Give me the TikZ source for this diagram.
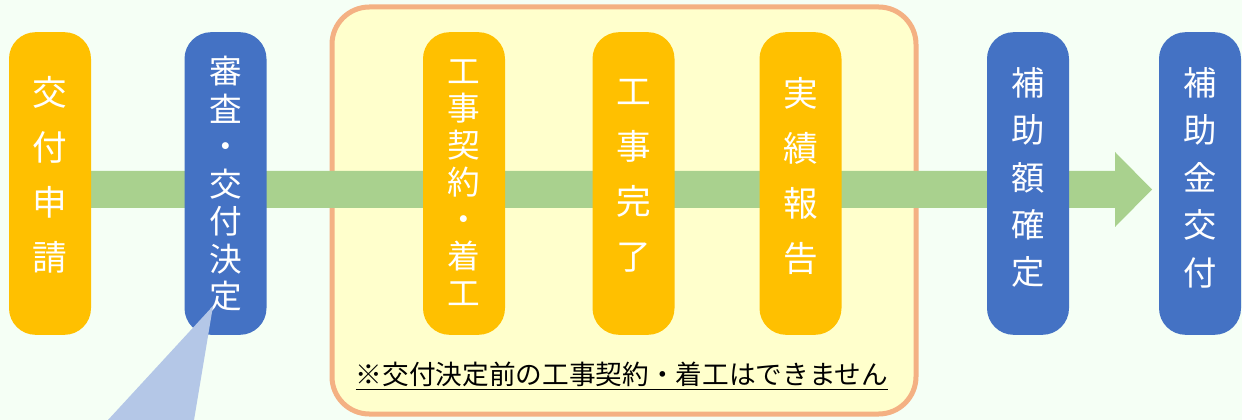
\documentclass[tikz,border=0pt]{standalone}
\usepackage{fontspec}
\newfontfamily\jp{Noto Sans CJK JP}
\definecolor{bgc}{HTML}{F5FFF5}
\definecolor{orangebox}{HTML}{FFC000}
\definecolor{bluebox}{HTML}{4472C4}
\definecolor{greenbar}{HTML}{A9D18E}
\definecolor{salmon}{HTML}{F4B183}
\definecolor{paleyellow}{HTML}{FFFFCC}
\definecolor{callout}{HTML}{B4C7E7}
\begin{document}
\begin{tikzpicture}[x=0.75pt,y=-0.75pt,
  stepbox/.style={rounded corners=20pt, minimum width=61.5pt, minimum height=227pt, inner sep=0pt, draw=none},
  orangestep/.style={stepbox, fill=orangebox},
  bluestep/.style={stepbox, fill=bluebox},
  vtext/.style 2 args={text=white, align=center, inner sep=0pt, font=\jp\fontsize{#1}{#2}\selectfont}
]
\useasboundingbox (0,0) rectangle (1242,420);
\fill[bgc] (0,0) rectangle (1242,420);

% group frame
\draw[salmon, fill=paleyellow, line width=3.75pt, rounded corners=28pt] (332,7) rectangle (916,414);

% flow arrow
\fill[greenbar] (50,171) -- (1115,171) -- (1115,152) -- (1152,189.5) -- (1115,227) -- (1115,208) -- (50,208) -- cycle;

% boxes
\node[orangestep] (b1) at (50,183.5) {};
\node[bluestep]   (b2) at (225.5,183.5) {};
\node[orangestep] (b3) at (464,183.5) {};
\node[orangestep] (b4) at (633.5,183.5) {};
\node[orangestep] (b5) at (800.5,183.5) {};
\node[bluestep]   (b6) at (1028,183.5) {};
\node[bluestep]   (b7) at (1200,183.5) {};

% texts
\node[vtext={26}{41.25}] (t1) at (50,175) {交\\付\\申\\請};
\node[vtext={24.5}{28.1}] (t2) at (225.5,184) {審\\査\\・\\交\\付\\決\\定};
\node[vtext={24.5}{27.75}] (t3) at (464,182.5) {工\\事\\契\\約\\・\\着\\工};
\node[vtext={26}{41.25}] (t4) at (633.5,175.5) {工\\事\\完\\了};
\node[vtext={26}{41.25}] (t5) at (800.5,175.5) {実\\績\\報\\告};
\node[vtext={25}{35.6}] (t6) at (1028,177.5) {補\\助\\額\\確\\定};
\node[vtext={25}{35.6}] (t7) at (1200,177.5) {補\\助\\金\\交\\付};

% note
\node[inner sep=0pt, font=\jp\fontsize{20}{24}\selectfont, text=black] (note) at (622,376) {\setlength{\fboxrule}{0pt}\underline{※交付決定前の工事契約・着工はできません}};

% callout wedge
\fill[callout] (213,306) -- (194,420) -- (108,420) -- cycle;
\end{tikzpicture}
\end{document}
